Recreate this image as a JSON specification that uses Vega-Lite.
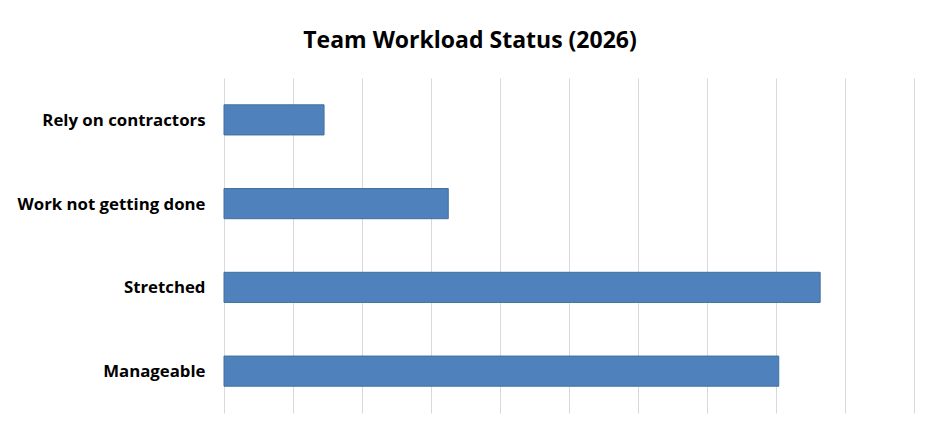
{
  "$schema": "https://vega.github.io/schema/vega-lite/v6.json",
  "width": 690,
  "height": 335,
  "autosize": {"type": "none"},
  "padding": {"left": 224, "top": 78, "right": 26, "bottom": 24},
  "background": "white",
  "title": {
    "text": "Team Workload Status (2026)",
    "anchor": "middle",
    "dx": -99,
    "offset": 25,
    "font": "Open Sans",
    "fontSize": 23,
    "fontWeight": "bold",
    "color": "#000000"
  },
  "data": {
    "values": [
      {"status": "Rely on contractors", "value": 14.5},
      {"status": "Work not getting done", "value": 32.5},
      {"status": "Stretched", "value": 86.4},
      {"status": "Manageable", "value": 80.4}
    ]
  },
  "mark": {"type": "bar", "color": "#4F81BD", "stroke": "#41719C", "strokeWidth": 1},
  "encoding": {
    "y": {
      "field": "status",
      "type": "nominal",
      "sort": null,
      "title": null,
      "scale": {"paddingInner": 0.64, "paddingOuter": 0.32},
      "axis": {
        "domain": false,
        "ticks": false,
        "labelPadding": 19,
        "labelLimit": 300,
        "labelFont": "Open Sans",
        "labelFontSize": 16.8,
        "labelFontWeight": "bold",
        "labelColor": "#000000",
        "labelOffset": 1
      }
    },
    "x": {
      "field": "value",
      "type": "quantitative",
      "title": null,
      "scale": {"domain": [0, 100], "nice": false},
      "axis": {
        "values": [0, 10, 20, 30, 40, 50, 60, 70, 80, 90, 100],
        "labels": false,
        "ticks": false,
        "domain": false,
        "grid": true,
        "gridColor": "#D9D9D9",
        "gridWidth": 1
      }
    }
  },
  "config": {"view": {"stroke": null}}
}
